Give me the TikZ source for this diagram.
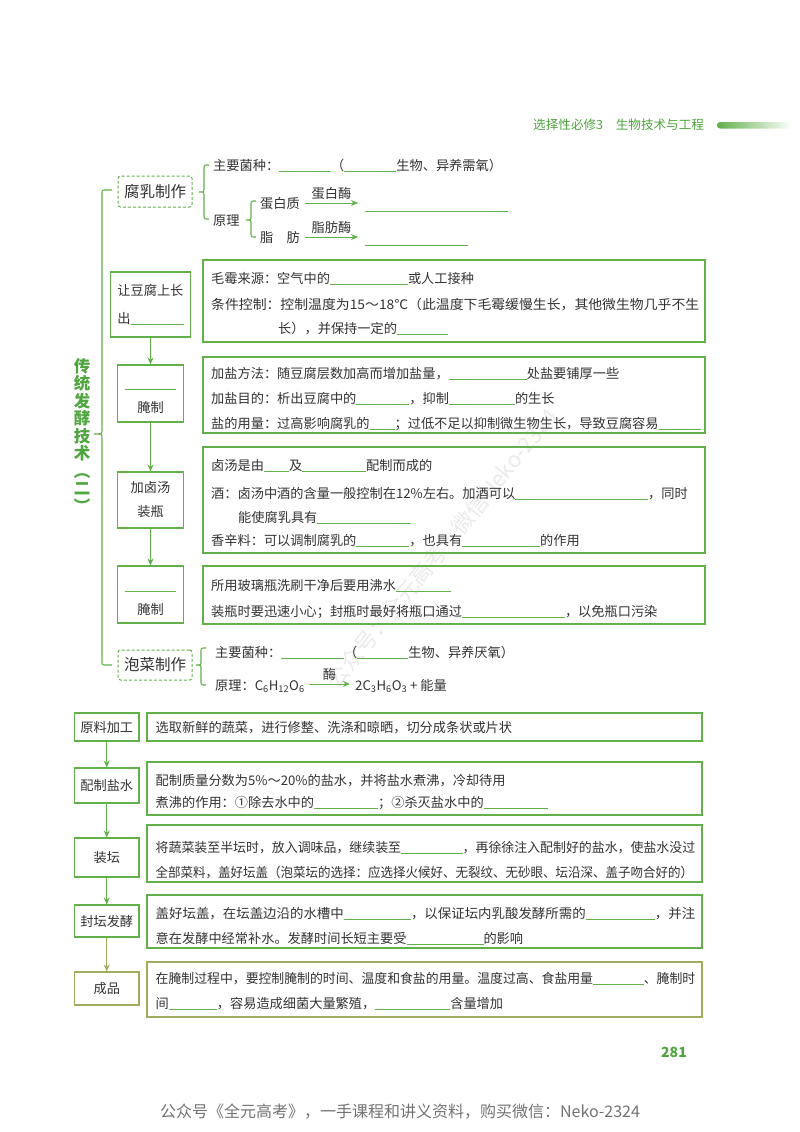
\documentclass[tikz,border=0pt]{standalone}
\usepackage{fontspec}
\usepackage{graphicx}
\setmainfont{Noto Sans CJK SC}
\usetikzlibrary{arrows.meta}
\definecolor{gr}{HTML}{62B04A}
\definecolor{tx}{HTML}{333333}
\definecolor{ttl}{HTML}{4FA53E}
\definecolor{olv}{HTML}{A0AC5E}
\newcommand{\myfs}[1]{\fontsize{#1}{#1}\selectfont}
\newcommand{\blk}[1]{\textcolor{gr}{\rule[-1.2pt]{#1pt}{0.6pt}}}
\newcommand{\jl}[2]{\resizebox{#1pt}{\height}{#2}}
\newcommand{\mybrace}[6]{%
  \draw[brc] (#1+#5,#2) -- (#1+4,#2) .. controls (#1,#2) .. (#1,#2+4) -- (#1,#3-4)
    .. controls (#1,#3) .. (#1-#6,#3) .. controls (#1,#3) .. (#1,#3+4) -- (#1,#4-4)
    .. controls (#1,#4) .. (#1+4,#4) -- (#1+#5,#4);}
\begin{document}
\begin{tikzpicture}[x=1pt,y=-1pt,
  sbox/.style={draw=gr, line width=1.1pt, inner sep=0pt, align=center, text=tx, font=\myfs{13.2}},
  bbox/.style={draw=gr, line width=1.2pt, inner sep=0pt},
  dbox/.style={draw=gr, line width=1pt, dash pattern=on 3pt off 2pt, rounded corners=2.5pt, inner sep=0pt, text=tx, font=\myfs{15.5}},
  tl/.style={anchor=base west, inner sep=0pt, text=tx, font=\myfs{13.2}},
  tc/.style={anchor=base, inner sep=0pt, text=tx, font=\myfs{13.2}},
  arr/.style={draw=gr, line width=1pt, -{Stealth[length=7pt,width=6pt]}},
  brc/.style={draw=gr, line width=1.1pt},
  lbl/.style={inner sep=0pt, text=tx, font=\myfs{13.2}},
]
\fill[white] (0,0) rectangle (800,1132);
\useasboundingbox (0,0) rectangle (800,1132);

% watermark
\node[rotate=51, text=black!8, font=\myfs{22}] (wm) at (442,548) {公众号：全元高考　微信Neko-2324};

% header
\node[anchor=west, inner sep=0pt, text=ttl, font=\myfs{12.6}] (hdr) at (533,125) {选择性必修3　生物技术与工程};
\shade[left color=gr, right color=white, rounded corners=3pt] (717,122) rectangle (792,128.5);

% title and big brace
\node[inner sep=0pt, align=center, text=ttl, font=\fontsize{16.5}{17.5}\selectfont\bfseries] (title) at (82,435) {传\\统\\发\\酵\\技\\术\\︵\\二\\︶};
\mybrace{102}{190}{434}{665}{10}{8}

% 腐乳制作
\node[dbox, minimum width=74pt, minimum height=31pt] (fr) at (155,191.5) {腐乳制作};
\mybrace{204}{165}{192}{219}{5}{5}
\node[tl] (zj1) at (213,170) {主要菌种：\blk{52}（\blk{52}生物、异养需氧）};
\node[tl] (yl1) at (213,225) {原理};
\mybrace{251}{201}{220}{237}{5}{5}
\node[tl] (dbz) at (260,208) {蛋白质};
\node[tl] (zf) at (260,242) {脂　肪};
\coordinate (e1) at (358,203);
\coordinate (e2) at (358,237);
\draw[arr] ([xshift=5pt]dbz.east |- e1) -- (e1) node[lbl, midway, above=3pt] (m1) {蛋白酶};
\draw[arr] ([xshift=5pt]zf.east |- e2) -- (e2) node[lbl, midway, above=3pt] (m2) {脂肪酶};
\node[tl] (u1) at (365,210) {\blk{143}};
\node[tl] (u2) at (365,244) {\blk{103}};

% step 1
\node[sbox, minimum width=79.5pt, minimum height=65pt, align=left, font=\fontsize{13.2}{28}\selectfont] (s1) at (150.5,304.5) {让豆腐上长\\出\blk{53}};
\node[bbox, minimum width=502pt, minimum height=82pt] (b1) at (454,301) {};
\node[tl] (b1a) at (211,283) {毛霉来源：空气中的\blk{78}或人工接种};
\node[tl] (b1b) at (211,309) {\jl{488}{条件控制：控制温度为15～18℃（此温度下毛霉缓慢生长，其他微生物几乎不生}};
\node[tl] (b1c) at (278,333) {长），并保持一定的\blk{51}};

% step 2
\node[sbox, minimum width=66.5pt, minimum height=57pt] (s2) at (150.5,393.5) {};
\node[tl] (s2u) at (125,388) {\blk{51}};
\node[tc] (s2t) at (150.5,412) {腌制};
\node[bbox, minimum width=502pt, minimum height=76pt] (b2) at (454,395) {};
\node[tl] (b2a) at (211,378) {加盐方法：随豆腐层数加高而增加盐量，\blk{78}处盐要铺厚一些};
\node[tl] (b2b) at (211,403) {加盐目的：析出豆腐中的\blk{53}，抑制\blk{66}的生长};
\node[tl] (b2c) at (211,428) {盐的用量：过高影响腐乳的\blk{25}；过低不足以抑制微生物生长，导致豆腐容易\blk{42}};

% step 3
\node[sbox, minimum width=66.5pt, minimum height=56pt, font=\fontsize{13.2}{24}\selectfont] (s3) at (150.5,500) {加卤汤\\装瓶};
\node[bbox, minimum width=502pt, minimum height=106pt] (b3) at (454,500) {};
\node[tl] (b3a) at (211,470) {卤汤是由\blk{25}及\blk{64}配制而成的};
\node[tl] (b3b) at (211,498) {酒：卤汤中酒的含量一般控制在12\%左右。加酒可以\blk{133}，同时};
\node[tl] (b3c) at (238,522) {能使腐乳具有\blk{94}};
\node[tl] (b3d) at (211,545) {香辛料：可以调制腐乳的\blk{53}，也具有\blk{78}的作用};

% step 4
\node[sbox, minimum width=66.5pt, minimum height=57pt] (s4) at (150.5,594.5) {};
\node[tl] (s4u) at (125,590) {\blk{51}};
\node[tc] (s4t) at (150.5,614) {腌制};
\node[bbox, minimum width=502pt, minimum height=58pt] (b4) at (454,595) {};
\node[tl] (b4a) at (211,590) {所用玻璃瓶洗刷干净后要用沸水\blk{55}};
\node[tl] (b4b) at (211,616) {装瓶时要迅速小心；封瓶时最好将瓶口通过\blk{103}，以免瓶口污染};

\draw[arr] (s1) -- (s2);
\draw[arr] (s2) -- (s3);
\draw[arr] (s3) -- (s4);

% 泡菜制作
\node[dbox, minimum width=74pt, minimum height=30pt] (pc) at (155,665) {泡菜制作};
\mybrace{201}{648}{665}{685}{5}{5}
\node[tl] (zj2) at (215,657) {主要菌种：\blk{63}（\blk{51}生物、异养厌氧）};
\node[tl] (yl2) at (215,690) {原理：C\textsubscript{6}H\textsubscript{12}O\textsubscript{6}};
\coordinate (e3) at (350,684);
\draw[arr] ([xshift=4pt]yl2.east |- e3) -- (e3) node[lbl, midway, above=3pt] (m3) {酶};
\node[tl] (prod) at (355,690) {2C\textsubscript{3}H\textsubscript{6}O\textsubscript{3} + 能量};

% bottom process
\node[sbox, minimum width=64.5pt, minimum height=28pt] (p1) at (106.75,727) {原料加工};
\node[sbox, minimum width=64.5pt, minimum height=35pt] (p2) at (106.75,785.5) {配制盐水};
\node[sbox, minimum width=64.5pt, minimum height=39pt] (p3) at (106.75,857.5) {装坛};
\node[sbox, minimum width=64.5pt, minimum height=32pt] (p4) at (106.75,921) {封坛发酵};
\node[sbox, draw=olv, minimum width=64.5pt, minimum height=33pt] (p5) at (106.75,988.5) {成品};
\draw[arr] (p1) -- (p2);
\draw[arr] (p2) -- (p3);
\draw[arr] (p3) -- (p4);
\draw[arr, draw=olv] (p4) -- (p5);

\node[bbox, minimum width=555pt, minimum height=28pt] (q1) at (424.5,727) {};
\node[bbox, minimum width=555pt, minimum height=53pt] (q2) at (424.5,788.5) {};
\node[bbox, minimum width=555pt, minimum height=57pt] (q3) at (424.5,853.5) {};
\node[bbox, minimum width=555pt, minimum height=53pt] (q4) at (424.5,921.5) {};
\node[bbox, draw=olv, minimum width=555pt, minimum height=55pt] (q5) at (424.5,989.5) {};

\node[tl] (q1a) at (155.5,732) {选取新鲜的蔬菜，进行修整、洗涤和晾晒，切分成条状或片状};
\node[tl] (q2a) at (155.5,785) {配制质量分数为5\%～20\%的盐水，并将盐水煮沸，冷却待用};
\node[tl] (q2b) at (155.5,807) {煮沸的作用：①除去水中的\blk{64}；②杀灭盐水中的\blk{64}};
\node[tl] (q3a) at (155.5,852) {\jl{539.5}{将蔬菜装至半坛时，放入调味品，继续装至\blk{63}，再徐徐注入配制好的盐水，使盐水没过}};
\node[tl] (q3b) at (155.5,877) {\jl{537.5}{全部菜料，盖好坛盖（泡菜坛的选择：应选择火候好、无裂纹、无砂眼、坛沿深、盖子吻合好的）}};
\node[tl] (q4a) at (155.5,918) {\jl{539.5}{盖好坛盖，在坛盖边沿的水槽中\blk{66}，以保证坛内乳酸发酵所需的\blk{68}，并注}};
\node[tl] (q4b) at (155.5,943) {意在发酵中经常补水。发酵时间长短主要受\blk{77}的影响};
\node[tl] (q5a) at (155.5,983) {\jl{539.5}{在腌制过程中，要控制腌制的时间、温度和食盐的用量。温度过高、食盐用量\blk{52}、腌制时}};
\node[tl] (q5b) at (155.5,1008) {间\blk{48}，容易造成细菌大量繁殖，\blk{75}含量增加};

% page number and footer
\node[inner sep=0pt, text=ttl, font=\myfs{14}\bfseries] (pg) at (674,1052) {281};
\node[inner sep=0pt, text=black!55, font=\myfs{16}] (ft) at (400,1112) {公众号《全元高考》，一手课程和讲义资料，购买微信：Neko-2324};
\end{tikzpicture}
\end{document}
